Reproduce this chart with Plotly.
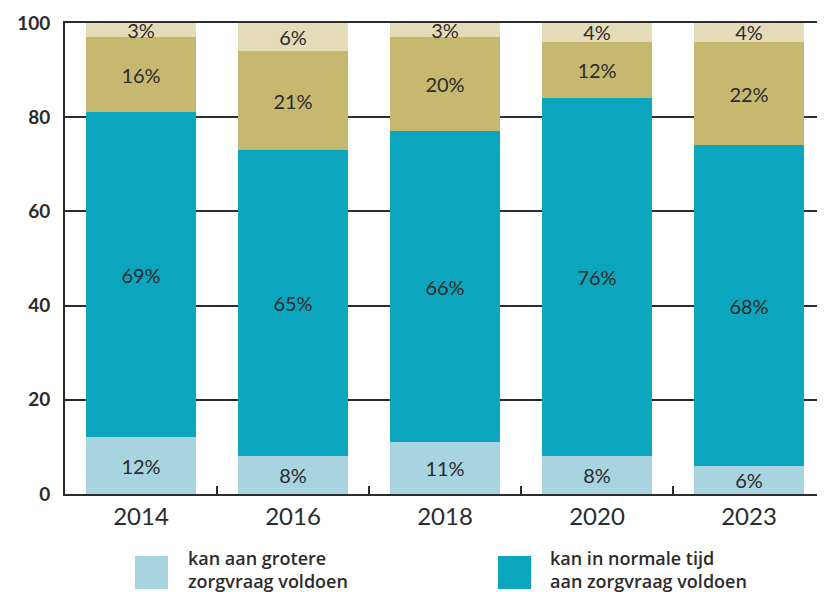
import plotly.graph_objects as go

years = ["2014", "2016", "2018", "2020", "2023"]
series_names = [
    "kan aan grotere<br>zorgvraag voldoen",
    "kan in normale tijd<br>aan zorgvraag voldoen",
    "kan niet aan zorgvraag voldoen",
    "weet niet",
]
grotere = [12, 8, 11, 8, 6]
normale = [69, 65, 66, 76, 68]
niet = [16, 21, 20, 12, 22]
weetniet = [3, 6, 3, 4, 4]
colors = ["#a8d4e0", "#0ba6be", "#c7b870", "#e4dcb8"]
y_ticks = [0, 20, 40, 60, 80, 100]

FONT = "Lato"
TXT = "#2b2b2b"

fig = go.Figure()
for name, vals, col in zip(series_names, [grotere, normale, niet, weetniet], colors):
    fig.add_trace(go.Bar(
        x=years, y=vals, name=name,
        marker=dict(color=col, line=dict(width=0)),
        text=[f"{v}%" for v in vals],
        textposition="inside", insidetextanchor="middle",
        constraintext="none", textangle=0,
        textfont=dict(family=FONT, size=20, color=TXT),
        showlegend=False,
    ))

# the page body adds an 8px offset; figure is sized to compensate
W, H = 817, 584
L, R, T, B = 57, 0, 15, 98
pw, ph = W - L - R, H - T - B

def px(x):
    return (x - L) / pw

def py(y):
    return (H - B - y) / ph

legend_items = [(127, 178, 0), (490, 540, 1)]
for sx, tx, i in legend_items:
    fig.add_shape(type="rect", xref="paper", yref="paper",
                  x0=px(sx), x1=px(sx + 33), y0=py(548), y1=py(581),
                  fillcolor=colors[i], line=dict(width=0))
    fig.add_annotation(xref="paper", yref="paper", x=px(tx), y=py(561),
                       xanchor="left", yanchor="middle", align="left",
                       text=series_names[i], showarrow=False,
                       font=dict(family="Open Sans", size=18, color=TXT, weight=600))

fig.update_layout(
    barmode="stack", bargap=0.28,
    width=W, height=H,
    margin=dict(l=L, r=R, t=T, b=B, autoexpand=False),
    plot_bgcolor="white", paper_bgcolor="white",
    font=dict(family=FONT, color=TXT),
)
fig.update_yaxes(
    range=[0, 100], tickvals=y_ticks, showgrid=True, automargin=False,
    gridcolor="#2b2b2b", gridwidth=2, zeroline=False,
    showline=True, linecolor="#2b2b2b", linewidth=2, mirror=True,
    ticks="", ticklabelstandoff=9,
    tickfont=dict(family=FONT, size=19, color=TXT, weight="bold"),
)
fig.update_xaxes(
    showline=True, linecolor="#2b2b2b", linewidth=2, mirror=True, automargin=False,
    ticks="inside", tickson="boundaries", ticklen=8, tickwidth=2,
    tickcolor="#2b2b2b", showgrid=False,
    tickfont=dict(family=FONT, size=24, color=TXT),
)
fig.write_html("out.html")
